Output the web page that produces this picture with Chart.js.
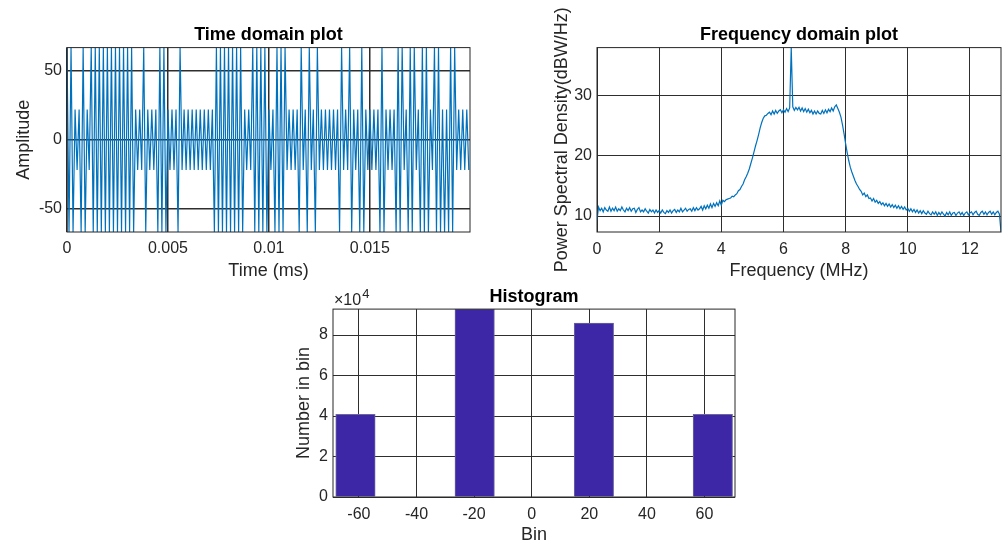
<!DOCTYPE html>
<html>
<head>
<meta charset="utf-8">
<title>Time, frequency and histogram plots</title>
<script src="https://cdn.jsdelivr.net/npm/chart.js@4.4.1/dist/chart.umd.min.js"></script>
<style>
  html, body { margin: 0; padding: 0; background: #fff; overflow: hidden; }
  #page { position: relative; width: 1003px; height: 547px; }
  canvas { position: absolute; }
  #timeChart { left: 0; top: 0; }
  #freqChart { left: 540px; top: 0; }
  #histChart { left: 285px; top: 280px; }
</style>
</head>
<body>
<div id="page">
  <canvas id="timeChart" width="500" height="282"></canvas>
  <canvas id="freqChart" width="463" height="282"></canvas>
  <canvas id="histChart" width="470" height="267"></canvas>
</div>
<script>
// ---------------- dados: sinal no tempo ----------------
const timeMs = [
  0, 0.0001, 0.0002, 0.0003, 0.0004, 0.0005, 0.0006, 0.0007, 0.0008, 0.0009,
  0.001, 0.0011, 0.0012, 0.0013, 0.0014, 0.0015, 0.0016, 0.0017, 0.0018, 0.0019,
  0.002, 0.0021, 0.0022, 0.0023, 0.0024, 0.0025, 0.0026, 0.0027, 0.0028, 0.0029,
  0.003, 0.0031, 0.0032, 0.0033, 0.0034, 0.0035, 0.0036, 0.0037, 0.0038, 0.0039,
  0.004, 0.0041, 0.0042, 0.0043, 0.0044, 0.0045, 0.0046, 0.0047, 0.0048, 0.0049,
  0.005, 0.0051, 0.0052, 0.0053, 0.0054, 0.0055, 0.0056, 0.0057, 0.0058, 0.0059,
  0.006, 0.0061, 0.0062, 0.0063, 0.0064, 0.0065, 0.0066, 0.0067, 0.0068, 0.0069,
  0.007, 0.0071, 0.0072, 0.0073, 0.0074, 0.0075, 0.0076, 0.0077, 0.0078, 0.0079,
  0.008, 0.0081, 0.0082, 0.0083, 0.0084, 0.0085, 0.0086, 0.0087, 0.0088, 0.0089,
  0.009, 0.0091, 0.0092, 0.0093, 0.0094, 0.0095, 0.0096, 0.0097, 0.0098, 0.0099,
  0.01, 0.0101, 0.0102, 0.0103, 0.0104, 0.0105, 0.0106, 0.0107, 0.0108, 0.0109,
  0.011, 0.0111, 0.0112, 0.0113, 0.0114, 0.0115, 0.0116, 0.0117, 0.0118, 0.0119,
  0.012, 0.0121, 0.0122, 0.0123, 0.0124, 0.0125, 0.0126, 0.0127, 0.0128, 0.0129,
  0.013, 0.0131, 0.0132, 0.0133, 0.0134, 0.0135, 0.0136, 0.0137, 0.0138, 0.0139,
  0.014, 0.0141, 0.0142, 0.0143, 0.0144, 0.0145, 0.0146, 0.0147, 0.0148, 0.0149,
  0.015, 0.0151, 0.0152, 0.0153, 0.0154, 0.0155, 0.0156, 0.0157, 0.0158, 0.0159,
  0.016, 0.0161, 0.0162, 0.0163, 0.0164, 0.0165, 0.0166, 0.0167, 0.0168, 0.0169,
  0.017, 0.0171, 0.0172, 0.0173, 0.0174, 0.0175, 0.0176, 0.0177, 0.0178, 0.0179,
  0.018, 0.0181, 0.0182, 0.0183, 0.0184, 0.0185, 0.0186, 0.0187, 0.0188, 0.0189,
  0.019, 0.0191, 0.0192, 0.0193, 0.0194, 0.0195, 0.0196, 0.0197, 0.0198, 0.0199
];

const amplitude = [
  67, -67, 67, -67, 22, -22, 22, -67, 67, -67,
  22, -22, 67, -67, 67, -67, 67, -67, 67, -67,
  67, -67, 67, -67, 67, -67, 67, -67, 67, -67,
  67, -67, 67, -67, 22, -22, 22, -22, 67, -67,
  22, -22, 22, -22, 22, -67, 67, -67, 67, -67,
  22, -22, 22, -22, 22, -67, 67, -22, 22, -22,
  22, -22, 22, -22, 22, -22, 22, -22, 22, -22,
  22, -22, 22, -67, 67, -67, 67, -67, 67, -67,
  67, -67, 67, -67, 67, -67, 67, -67, 22, -22,
  22, -22, 67, -67, 67, -67, 67, -67, 67, -67,
  22, -22, 22, -67, 67, -67, 67, -67, 67, -22,
  22, -22, 22, -22, 22, -67, 67, -22, 22, -67,
  67, -22, 22, -67, 67, -22, 22, -22, 22, -22,
  22, -22, 22, -22, 22, -67, 67, -22, 22, -22,
  67, -67, 22, -22, 22, -67, 67, -67, 22, -22,
  22, -22, 22, -22, 22, -67, 67, -67, 22, -22,
  22, -22, 22, -67, 67, -67, 67, -22, 22, -67,
  67, -67, 67, -22, 22, -67, 67, -67, 67, -67,
  22, -22, 67, -67, 67, -67, 22, -67, 22, -67,
  67, -67, 67, -22, 22, -22, 22, -22, 22, -22
];

// ---------------- dados: densidade espectral ----------------
const freqMHz = [
  0, 0.05, 0.1, 0.15, 0.2, 0.25, 0.3, 0.35, 0.4, 0.45, 0.5, 0.55, 0.6, 0.65, 0.7, 0.75, 0.8, 0.85, 0.9, 0.95,
  1, 1.05, 1.1, 1.15, 1.2, 1.25, 1.3, 1.35, 1.4, 1.45, 1.5, 1.55, 1.6, 1.65, 1.7, 1.75, 1.8, 1.85, 1.9, 1.95,
  2, 2.05, 2.1, 2.15, 2.2, 2.25, 2.3, 2.35, 2.4, 2.45, 2.5, 2.55, 2.6, 2.65, 2.7, 2.75, 2.8, 2.85, 2.9, 2.95,
  3, 3.05, 3.1, 3.15, 3.2, 3.25, 3.3, 3.35, 3.4, 3.45, 3.5, 3.55, 3.6, 3.65, 3.7, 3.75, 3.8, 3.85, 3.9, 3.95,
  4, 4.05, 4.1, 4.15, 4.2, 4.25, 4.3, 4.35, 4.4, 4.45, 4.5, 4.55, 4.6, 4.65, 4.7, 4.75, 4.8, 4.85, 4.9, 4.95,
  5, 5.05, 5.1, 5.15, 5.2, 5.25, 5.3, 5.35, 5.4, 5.45, 5.5, 5.55, 5.6, 5.65, 5.7, 5.75, 5.8, 5.85, 5.9, 5.95,
  6, 6.05, 6.1, 6.15, 6.2, 6.25, 6.3, 6.35, 6.4, 6.45, 6.5, 6.55, 6.6, 6.65, 6.7, 6.75, 6.8, 6.85, 6.9, 6.95,
  7, 7.05, 7.1, 7.15, 7.2, 7.25, 7.3, 7.35, 7.4, 7.45, 7.5, 7.55, 7.6, 7.65, 7.7, 7.75, 7.8, 7.85, 7.9, 7.95,
  8, 8.05, 8.1, 8.15, 8.2, 8.25, 8.3, 8.35, 8.4, 8.45, 8.5, 8.55, 8.6, 8.65, 8.7, 8.75, 8.8, 8.85, 8.9, 8.95,
  9, 9.05, 9.1, 9.15, 9.2, 9.25, 9.3, 9.35, 9.4, 9.45, 9.5, 9.55, 9.6, 9.65, 9.7, 9.75, 9.8, 9.85, 9.9, 9.95,
  10, 10.05, 10.1, 10.15, 10.2, 10.25, 10.3, 10.35, 10.4, 10.45, 10.5, 10.55, 10.6, 10.65, 10.7, 10.75, 10.8, 10.85, 10.9, 10.95,
  11, 11.05, 11.1, 11.15, 11.2, 11.25, 11.3, 11.35, 11.4, 11.45, 11.5, 11.55, 11.6, 11.65, 11.7, 11.75, 11.8, 11.85, 11.9, 11.95,
  12, 12.05, 12.1, 12.15, 12.2, 12.25, 12.3, 12.35, 12.4, 12.45, 12.5, 12.55, 12.6, 12.65, 12.7, 12.75, 12.8, 12.85, 12.9, 12.95,
  13
];

const psdDb = [
  9.3, 11.5, 10.9, 11.3, 10.7, 11.4, 11.0, 10.8, 11.5, 10.8, 11.3, 10.9, 11.5, 10.8, 11.2, 10.9, 11.5, 11.0, 10.7, 11.3,
  10.9, 11.4, 10.8, 11.2, 11.3, 10.6, 11.1, 11.4, 10.7, 11.0, 10.7, 11.2, 10.8, 10.5, 11.1, 10.7, 11.0, 10.5, 11.0, 10.6,
  10.9, 10.5, 11.0, 10.6, 10.4, 10.9, 10.6, 11.0, 10.5, 10.9, 11.1, 10.6, 11.0, 10.7, 11.3, 10.7, 11.0, 11.3, 10.8, 11.1,
  11.2, 10.8, 11.4, 10.9, 11.4, 11.0, 11.2, 11.6, 11.0, 11.7, 11.2, 11.8, 11.3, 12.0, 11.4, 12.1, 11.6, 12.2, 11.7, 12.5,
  11.8, 12.6, 12.4, 12.7, 12.8, 12.9, 13.0, 13.3, 13.2, 13.5, 13.7, 14.2, 14.4, 14.9, 15.3, 16.0, 16.5, 17.1, 17.8, 18.7,
  19.6, 20.6, 21.6, 22.5, 23.5, 24.6, 25.5, 26.2, 26.6, 26.7, 27.0, 27.2, 26.8, 27.4, 26.9, 27.5, 27.0, 27.4, 27.6, 27.1,
  27.6, 27.2, 27.8, 27.3, 27.9, 37.9, 28.1, 27.5, 28.0, 27.6, 28.0, 27.4, 27.9, 27.3, 27.8, 27.2, 27.7, 27.1, 27.5, 26.9,
  27.4, 26.9, 27.4, 27.0, 26.9, 27.5, 27.0, 27.6, 27.1, 27.7, 27.3, 27.9, 27.4, 28.1, 28.4, 27.8, 27.2, 26.4, 25.1, 23.6,
  22.0, 20.5, 19.2, 18.1, 17.3, 16.6, 15.9, 15.3, 14.9, 14.4, 14.1, 13.5, 13.8, 13.2, 13.5, 12.9, 13.0, 12.5, 12.9, 12.3,
  12.6, 12.1, 12.4, 11.9, 12.2, 11.7, 12.1, 11.6, 12.0, 11.5, 11.9, 11.4, 11.8, 11.3, 11.7, 11.2, 11.6, 11.1, 11.5, 11.0,
  11.3, 10.8, 11.2, 10.7, 11.1, 10.6, 11.0, 10.5, 10.9, 10.4, 10.9, 10.5, 10.3, 10.8, 10.4, 10.2, 10.7, 10.3, 10.7, 10.1,
  10.6, 10.2, 10.7, 10.3, 10.0, 10.6, 10.2, 10.7, 10.1, 10.5, 10.6, 10.1, 10.5, 10.7, 10.2, 10.6, 10.1, 10.5, 10.7, 10.2,
  10.5, 10.7, 10.2, 10.6, 10.8, 10.3, 10.1, 10.6, 10.8, 10.3, 10.7, 10.2, 10.6, 10.8, 10.3, 10.7, 10.2, 10.6, 10.8, 10.3,
  7.36
];

// ---------------- dados: histograma (10 bins) ----------------
const binCenters = [-61.2, -47.4, -33.6, -19.8, -6.0, 7.8, 21.6, 35.4, 49.2, 62.9];
const binCounts = [40800, 0, 0, 92800, 0, 0, 85900, 0, 0, 40800];

// ticks
const timeTicks = [0, 0.005, 0.01, 0.015];
const ampTicks = [-50, 0, 50];
const freqTicks = [0, 2, 4, 6, 8, 10, 12];
const psdTicks = [10, 20, 30];
const binTicks = [-60, -40, -20, 0, 20, 40, 60];
const countTicks = [0, 20000, 40000, 60000, 80000];

// ---------------- estilo ----------------
const FONT = "'Liberation Sans', Arial, Helvetica, sans-serif";
const textColor = "#262626";
const gridColor = "#2e2e2e";
const lineBlue = "#0072BD";
const barColor = "#3d27a6";

const tickFont = { family: FONT, size: 16 };
const labelFont = { family: FONT, size: 18 };
const titleFont = { family: FONT, size: 18, weight: "bold" };

// caixa em volta da area do grafico (como o box on do matlab)
const boxPlugin = {
  id: "plotBox",
  afterDraw(chart) {
    const { ctx, chartArea: a } = chart;
    ctx.save();
    ctx.strokeStyle = textColor;
    ctx.lineWidth = 1;
    ctx.strokeRect(a.left, a.top, a.right - a.left, a.bottom - a.top);
    ctx.restore();
  },
};

// multiplicador x10^4 do eixo y do histograma
const exponentPlugin = {
  id: "exponentLabel",
  afterDraw(chart) {
    const { ctx, chartArea: a } = chart;
    ctx.save();
    ctx.fillStyle = textColor;
    ctx.textBaseline = "alphabetic";
    ctx.font = "16px " + FONT;
    ctx.fillText("\u00d710", a.left + 1, a.top - 4);
    const w = ctx.measureText("\u00d710").width;
    ctx.font = "13px " + FONT;
    ctx.fillText("4", a.left + 2 + w, a.top - 11);
    ctx.restore();
  },
};

function fixedTicks(values) {
  return (scale) => {
    scale.ticks = values.map((v) => ({ value: v }));
  };
}

function xAxis(opts) {
  return {
    type: "linear",
    min: opts.min,
    max: opts.max,
    offset: false,
    afterBuildTicks: fixedTicks(opts.ticks),
    afterFit: (s) => { s.height = 50; },
    grid: { color: gridColor, lineWidth: opts.gridWidth, drawTicks: false, offset: false },
    border: { display: false },
    ticks: {
      color: textColor,
      font: tickFont,
      padding: opts.pad,
      maxRotation: 0,
      autoSkip: false,
      callback: opts.label || ((v) => String(v)),
    },
    title: { display: true, text: opts.title, color: textColor, font: labelFont, padding: { top: 0, bottom: opts.titlePad } },
  };
}

function yAxis(opts) {
  return {
    type: "linear",
    min: opts.min,
    max: opts.max,
    afterBuildTicks: fixedTicks(opts.ticks),
    afterFit: (s) => { s.width = opts.width; },
    grid: { color: gridColor, lineWidth: opts.gridWidth, drawTicks: false },
    border: { display: false },
    ticks: {
      color: textColor,
      font: tickFont,
      padding: 5,
      autoSkip: false,
      callback: opts.label || ((v) => String(v)),
    },
    title: { display: true, text: opts.title, color: textColor, font: labelFont, padding: { top: opts.titlePad, bottom: 0 } },
  };
}

function titleOpts(text, top, bottom) {
  return {
    display: true,
    text: text,
    fullSize: false,
    color: "#000",
    font: titleFont,
    padding: { top: top, bottom: bottom },
  };
}

// ----------------- Grafico 1: tempo -----------------
new Chart(document.getElementById("timeChart"), {
  type: "line",
  data: {
    datasets: [
      {
        data: timeMs.map((t, i) => ({ x: t, y: amplitude[i] })),
        borderColor: lineBlue,
        borderWidth: 1.2,
        pointRadius: 0,
        tension: 0,
      },
    ],
  },
  options: {
    responsive: false,
    animation: false,
    layout: { padding: { left: 0, right: 30, top: 0, bottom: 0 } },
    plugins: {
      legend: { display: false },
      tooltip: { enabled: false },
      title: titleOpts("Time domain plot", 24, 2),
    },
    scales: {
      x: xAxis({ min: 0, max: 0.01996, ticks: timeTicks, gridWidth: 1.5, pad: 7, title: "Time (ms)", titlePad: 0 }),
      y: yAxis({ min: -67, max: 67, ticks: ampTicks, gridWidth: 1.5, width: 67, title: "Amplitude", titlePad: 13 }),
    },
  },
  plugins: [boxPlugin],
});

// ----------------- Grafico 2: frequencia -----------------
new Chart(document.getElementById("freqChart"), {
  type: "line",
  data: {
    datasets: [
      {
        data: freqMHz.map((f, i) => ({ x: f, y: psdDb[i] })),
        borderColor: lineBlue,
        borderWidth: 1.2,
        pointRadius: 0,
        tension: 0,
      },
    ],
  },
  options: {
    responsive: false,
    animation: false,
    layout: { padding: { left: 0, right: 2, top: 0, bottom: 0 } },
    plugins: {
      legend: { display: false },
      tooltip: { enabled: false },
      title: titleOpts("Frequency domain plot", 24, 2),
    },
    scales: {
      x: xAxis({ min: 0, max: 13, ticks: freqTicks, gridWidth: 1, pad: 8, title: "Frequency (MHz)", titlePad: 0 }),
      y: yAxis({ min: 7.36, max: 37.9, ticks: psdTicks, gridWidth: 1, width: 57, title: "Power Spectral Density(dBW/Hz)", titlePad: 11 }),
    },
  },
  plugins: [boxPlugin],
});

// ----------------- Grafico 3: histograma -----------------
new Chart(document.getElementById("histChart"), {
  type: "bar",
  data: {
    datasets: [
      {
        data: binCenters.map((c, i) => ({ x: c, y: binCounts[i] })),
        backgroundColor: barColor,
        borderColor: "#6c669c",
        borderWidth: 1,
        barPercentage: 1,
        categoryPercentage: 1,
      },
    ],
  },
  options: {
    responsive: false,
    animation: false,
    layout: { padding: { left: 0, right: 20, top: 0, bottom: 0 } },
    plugins: {
      legend: { display: false },
      tooltip: { enabled: false },
      title: titleOpts("Histogram", 6, 1.5),
    },
    scales: {
      x: xAxis({ min: -69, max: 70.6, ticks: binTicks, gridWidth: 1, pad: 8, title: "Bin", titlePad: 1 }),
      y: yAxis({
        min: 0, max: 92800, ticks: countTicks, gridWidth: 1, width: 48,
        title: "Number in bin", titlePad: 8, label: (v) => String(v / 10000),
      }),
    },
  },
  plugins: [boxPlugin, exponentPlugin],
});
</script>
</body>
</html>
